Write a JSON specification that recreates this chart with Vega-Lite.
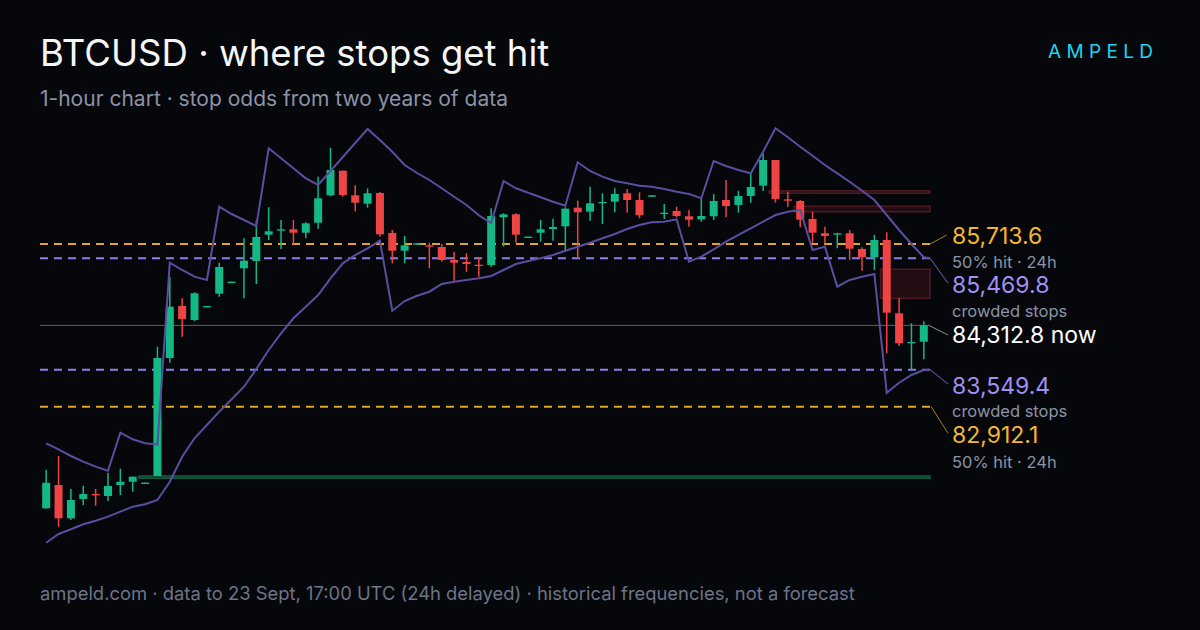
{
  "$schema": "https://vega.github.io/schema/vega-lite/v6.json",
  "width": 890,
  "height": 440,
  "autosize": "none",
  "padding": {"left": 40, "top": 120, "right": 270, "bottom": 70},
  "background": "#06070b",
  "config": {"view": {"stroke": null}, "font": "Inter"},
  "datasets": {
    "candles": [
      {"i":0,"o":81162,"h":81822,"l":81160,"c":81603},
      {"i":1,"o":81564,"h":82063,"l":80846,"c":80990},
      {"i":2,"o":80990,"h":81495,"l":80961,"c":81305},
      {"i":3,"o":81323,"h":81552,"l":81219,"c":81409},
      {"i":4,"o":81409,"h":81495,"l":81207,"c":81385},
      {"i":5,"o":81374,"h":81775,"l":81288,"c":81546},
      {"i":6,"o":81564,"h":81844,"l":81391,"c":81620},
      {"i":7,"o":81620,"h":81707,"l":81448,"c":81707},
      {"i":8,"o":81581,"h":81605,"l":81581,"c":81605},
      {"i":9,"o":81719,"h":83945,"l":81719,"c":83751},
      {"i":10,"o":83751,"h":85151,"l":83670,"c":84634},
      {"i":11,"o":84646,"h":84779,"l":84117,"c":84422},
      {"i":12,"o":84405,"h":84882,"l":84388,"c":84865},
      {"i":13,"o":84622,"h":84646,"l":84622,"c":84646},
      {"i":14,"o":84858,"h":85392,"l":84806,"c":85318},
      {"i":15,"o":85042,"h":85066,"l":85042,"c":85066},
      {"i":16,"o":85295,"h":85812,"l":84779,"c":85426},
      {"i":17,"o":85421,"h":86115,"l":85025,"c":85834},
      {"i":18,"o":85874,"h":86346,"l":85783,"c":85932},
      {"i":19,"o":85943,"h":86127,"l":85628,"c":85967},
      {"i":20,"o":85967,"h":86127,"l":85709,"c":85908},
      {"i":21,"o":85908,"h":86087,"l":85812,"c":86070},
      {"i":22,"o":86080,"h":86873,"l":85977,"c":86501},
      {"i":23,"o":86552,"h":87372,"l":86535,"c":86988},
      {"i":24,"o":86976,"h":86976,"l":86528,"c":86557},
      {"i":25,"o":86552,"h":86724,"l":86277,"c":86425},
      {"i":26,"o":86408,"h":86673,"l":86339,"c":86587},
      {"i":27,"o":86592,"h":86609,"l":85839,"c":85881},
      {"i":28,"o":85903,"h":85955,"l":85381,"c":85598},
      {"i":29,"o":85598,"h":85851,"l":85381,"c":85691},
      {"i":30,"o":85702,"h":85726,"l":85702,"c":85726},
      {"i":31,"o":85691,"h":85736,"l":85295,"c":85667},
      {"i":32,"o":85662,"h":85714,"l":85409,"c":85438},
      {"i":33,"o":85438,"h":85581,"l":85082,"c":85392},
      {"i":34,"o":85404,"h":85554,"l":85237,"c":85369},
      {"i":35,"o":85357,"h":85485,"l":85151,"c":85335},
      {"i":36,"o":85352,"h":86328,"l":85323,"c":86196},
      {"i":37,"o":86173,"h":86242,"l":85667,"c":86225},
      {"i":38,"o":86225,"h":86242,"l":85736,"c":85874},
      {"i":39,"o":85817,"h":85841,"l":85817,"c":85841},
      {"i":40,"o":85908,"h":86127,"l":85753,"c":85967},
      {"i":41,"o":85972,"h":86149,"l":85770,"c":86006},
      {"i":42,"o":86018,"h":86346,"l":85598,"c":86322},
      {"i":43,"o":86339,"h":86459,"l":85490,"c":86260},
      {"i":44,"o":86270,"h":86700,"l":86115,"c":86415},
      {"i":45,"o":86415,"h":86587,"l":86058,"c":86437},
      {"i":46,"o":86442,"h":86673,"l":86260,"c":86575},
      {"i":47,"o":86587,"h":86661,"l":86253,"c":86471},
      {"i":48,"o":86471,"h":86604,"l":86156,"c":86208},
      {"i":49,"o":86528,"h":86552,"l":86528,"c":86552},
      {"i":50,"o":86230,"h":86402,"l":86144,"c":86253},
      {"i":51,"o":86282,"h":86356,"l":86173,"c":86196},
      {"i":52,"o":86191,"h":86299,"l":86012,"c":86132},
      {"i":53,"o":86139,"h":86494,"l":86098,"c":86196},
      {"i":54,"o":86191,"h":86575,"l":86127,"c":86454},
      {"i":55,"o":86471,"h":86816,"l":86173,"c":86368},
      {"i":56,"o":86385,"h":86631,"l":86253,"c":86540},
      {"i":57,"o":86540,"h":86931,"l":86425,"c":86695},
      {"i":58,"o":86718,"h":87276,"l":86626,"c":87160},
      {"i":59,"o":87160,"h":87160,"l":86425,"c":86489},
      {"i":60,"o":86483,"h":86614,"l":86356,"c":86459},
      {"i":61,"o":86454,"h":86471,"l":86001,"c":86132},
      {"i":62,"o":86144,"h":86270,"l":85726,"c":85908},
      {"i":63,"o":85898,"h":86012,"l":85714,"c":85851},
      {"i":64,"o":85874,"h":85908,"l":85640,"c":85898},
      {"i":65,"o":85898,"h":85955,"l":85438,"c":85633},
      {"i":66,"o":85628,"h":85657,"l":85254,"c":85485},
      {"i":67,"o":85485,"h":85869,"l":85266,"c":85783},
      {"i":68,"o":85783,"h":85915,"l":83832,"c":84531},
      {"i":69,"o":84520,"h":84779,"l":83957,"c":84004},
      {"i":70,"o":84004,"h":84348,"l":83556,"c":84026},
      {"i":71,"o":84031,"h":84383,"l":83728,"c":84312.8}
    ],
    "bands": [
      {"i":0,"u":82282,"lo":80570},{"i":1,"u":82178,"lo":80720},{"i":2,"u":82063,"lo":80801},
      {"i":3,"u":81965,"lo":80887},{"i":4,"u":81879,"lo":80949},{"i":5,"u":81810,"lo":81018},
      {"i":6,"u":82464,"lo":81104},{"i":7,"u":82351,"lo":81190},{"i":8,"u":82282,"lo":81231},
      {"i":9,"u":82261,"lo":81305},{"i":10,"u":85392,"lo":81620},{"i":11,"u":85266,"lo":82051},
      {"i":12,"u":85151,"lo":82368},{"i":13,"u":85094,"lo":82597},{"i":14,"u":86356,"lo":82826},
      {"i":15,"u":86230,"lo":83039},{"i":16,"u":86127,"lo":83256},{"i":17,"u":86024,"lo":83561},
      {"i":18,"u":87362,"lo":83888},{"i":19,"u":87189,"lo":84176},{"i":20,"u":87017,"lo":84434},
      {"i":21,"u":86845,"lo":84634},{"i":22,"u":86730,"lo":84835},{"i":23,"u":86971,"lo":85123},
      {"i":24,"u":87212,"lo":85381},{"i":25,"u":87453,"lo":85524},{"i":26,"u":87694,"lo":85640},
      {"i":27,"u":87505,"lo":85770},{"i":28,"u":87303,"lo":84565},{"i":29,"u":87074,"lo":84732},
      {"i":30,"u":86936,"lo":84823},{"i":31,"u":86816,"lo":84892},{"i":32,"u":86673,"lo":85025},
      {"i":33,"u":86528,"lo":85064},{"i":34,"u":86385,"lo":85094},{"i":35,"u":86208,"lo":85123},
      {"i":36,"u":86070,"lo":85163},{"i":37,"u":86799,"lo":85266},{"i":38,"u":86673,"lo":85369},
      {"i":39,"u":86597,"lo":85421},{"i":40,"u":86518,"lo":85467},{"i":41,"u":86442,"lo":85524},
      {"i":42,"u":86373,"lo":85598},{"i":43,"u":87121,"lo":85667},{"i":44,"u":86971,"lo":85736},
      {"i":45,"u":86873,"lo":85812},{"i":46,"u":86799,"lo":85886},{"i":47,"u":86759,"lo":85972},
      {"i":48,"u":86718,"lo":86041},{"i":49,"u":86700,"lo":86087},{"i":50,"u":86661,"lo":86098},
      {"i":51,"u":86614,"lo":86139},{"i":52,"u":86575,"lo":85409},{"i":53,"u":86501,"lo":85495},
      {"i":54,"u":87143,"lo":85622},{"i":55,"u":87057,"lo":85753},{"i":56,"u":86988,"lo":85869},
      {"i":57,"u":86931,"lo":85984},{"i":58,"u":87303,"lo":86098},{"i":59,"u":87706,"lo":86213},
      {"i":60,"u":87551,"lo":86270},{"i":61,"u":87389,"lo":86299},{"i":62,"u":87234,"lo":85610},
      {"i":63,"u":87074,"lo":85667},{"i":64,"u":86931,"lo":84978},{"i":65,"u":86786,"lo":85094},
      {"i":66,"u":86631,"lo":85151},{"i":67,"u":86471,"lo":85197},{"i":68,"u":86213,"lo":83153},
      {"i":69,"u":85955,"lo":83325},{"i":70,"u":85714,"lo":83458},{"i":71,"u":85485,"lo":83544},
      {"i":71.5,"u":85469.8,"lo":83549.4}
    ],
    "levels": [
      {"p":85713.6,"kind":"hit"},
      {"p":85469.8,"kind":"crowd"},
      {"p":83549.4,"kind":"crowd"},
      {"p":82912.1,"kind":"hit"}
    ],
    "now": [{"p":84312.8}],
    "zones": [
      {"x":58.5,"x2":71.5,"y":86586.7,"y2":86631.4,"side":"sell"},
      {"x":60.5,"x2":71.5,"y":86269.8,"y2":86362.8,"side":"sell"},
      {"x":67.5,"x2":71.5,"y":84778.6,"y2":85278,"side":"sell"},
      {"x":7.5,"x2":71.5,"y":81679,"y2":81718.6,"side":"buy"}
    ],
    "connectors": [
      {"x":71.5,"x2":72.85,"y":85713.6,"y2":85868.6,"kind":"hit"},
      {"x":71.5,"x2":72.96,"y":85469.8,"y2":85036.9,"kind":"crowd"},
      {"x":71.4,"x2":72.96,"y":84312.8,"y2":84146.6,"kind":"now"},
      {"x":71.5,"x2":72.96,"y":83549.4,"y2":83302.8,"kind":"crowd"},
      {"x":71.6,"x2":72.96,"y":82912.1,"y2":82453.9,"kind":"hit"}
    ],
    "bigLabels": [
      {"x":73.28,"y":85713.6,"t":"85,713.6","kind":"hit"},
      {"x":73.28,"y":84864.7,"t":"85,469.8","kind":"crowd"},
      {"x":73.28,"y":84003.7,"t":"84,312.8 now","kind":"now"},
      {"x":73.28,"y":83130.6,"t":"83,549.4","kind":"crowd"},
      {"x":73.28,"y":82281.7,"t":"82,912.1","kind":"hit"}
    ],
    "smallLabels": [
      {"x":73.28,"y":85305.5,"t":"50% hit · 24h"},
      {"x":73.28,"y":84461.7,"t":"crowded stops"},
      {"x":73.28,"y":82739.7,"t":"crowded stops"},
      {"x":73.28,"y":81861.5,"t":"50% hit · 24h"}
    ],
    "heading": [{"x":-0.5,"y":88783.9,"t":"BTCUSD · where stops get hit"}],
    "subheading": [{"x":-0.5,"y":88090,"t":"1-hour chart · stop odds from two years of data"}],
    "footer": [{"x":-0.5,"y":79583.3,"t":"ampeld.com · data to 23 Sept, 17:00 UTC (24h delayed) · historical frequencies, not a forecast"}],
    "brand": [{"x":89.54,"y":88911.4,"t":"A M P E L D"}]
  },
  "layer": [
    {
      "data": {"name": "zones"},
      "mark": {"type": "rect", "strokeWidth": 1.5},
      "encoding": {
        "x": {"field": "x", "type": "quantitative", "scale": {"domain": [-0.5, 71.5], "nice": false, "zero": false, "padding": 0}, "axis": null},
        "x2": {"field": "x2"},
        "y": {"field": "y", "type": "quantitative", "scale": {"domain": [80272.1, 87848.9], "nice": false, "zero": false, "padding": 0}, "axis": null},
        "y2": {"field": "y2"},
        "fill": {"field": "side", "type": "nominal", "scale": {"domain": ["sell", "buy"], "range": ["#240d12", "#0b3527"]}, "legend": null},
        "stroke": {"field": "side", "type": "nominal", "scale": {"domain": ["sell", "buy"], "range": ["#4a1b23", "#145a43"]}, "legend": null}
      }
    },
    {
      "data": {"name": "levels"},
      "mark": {"type": "rule", "strokeWidth": 2, "strokeDash": [8, 6]},
      "encoding": {
        "y": {"field": "p", "type": "quantitative", "axis": null},
        "color": {"field": "kind", "type": "nominal", "scale": {"domain": ["hit", "crowd"], "range": ["#e0a52a", "#8e7fe2"]}, "legend": null}
      }
    },
    {
      "data": {"name": "now"},
      "mark": {"type": "rule", "strokeWidth": 1, "color": "#5d616c"},
      "encoding": {
        "y": {"field": "p", "type": "quantitative", "axis": null}
      }
    },
    {
      "data": {"name": "candles"},
      "mark": {"type": "rule", "strokeWidth": 1.5},
      "encoding": {
        "x": {"field": "i", "type": "quantitative", "axis": null},
        "y": {"field": "l", "type": "quantitative", "axis": null},
        "y2": {"field": "h"},
        "color": {"condition": {"test": "datum.c >= datum.o", "value": "#12b886"}, "value": "#ef4444"}
      }
    },
    {
      "data": {"name": "candles"},
      "mark": {"type": "bar", "size": 8},
      "encoding": {
        "x": {"field": "i", "type": "quantitative", "axis": null},
        "y": {"field": "o", "type": "quantitative", "axis": null},
        "y2": {"field": "c"},
        "color": {"condition": {"test": "datum.c >= datum.o", "value": "#12b886"}, "value": "#ef4444"}
      }
    },
    {
      "data": {"name": "bands"},
      "mark": {"type": "line", "strokeWidth": 2, "color": "#5b4d9f"},
      "encoding": {
        "x": {"field": "i", "type": "quantitative", "axis": null},
        "y": {"field": "u", "type": "quantitative", "axis": null}
      }
    },
    {
      "data": {"name": "bands"},
      "mark": {"type": "line", "strokeWidth": 2, "color": "#5b4d9f"},
      "encoding": {
        "x": {"field": "i", "type": "quantitative", "axis": null},
        "y": {"field": "lo", "type": "quantitative", "axis": null}
      }
    },
    {
      "data": {"name": "connectors"},
      "mark": {"type": "rule", "strokeWidth": 1},
      "encoding": {
        "x": {"field": "x", "type": "quantitative", "axis": null},
        "x2": {"field": "x2"},
        "y": {"field": "y", "type": "quantitative", "axis": null},
        "y2": {"field": "y2"},
        "color": {"field": "kind", "type": "nominal", "scale": {"domain": ["hit", "crowd", "now"], "range": ["#a17f2c", "#6f63b5", "#8a8e98"]}, "legend": null}
      }
    },
    {
      "data": {"name": "bigLabels"},
      "mark": {"type": "text", "align": "left", "baseline": "alphabetic", "fontSize": 23, "font": "Inter"},
      "encoding": {
        "x": {"field": "x", "type": "quantitative", "axis": null},
        "y": {"field": "y", "type": "quantitative", "axis": null},
        "text": {"field": "t"},
        "color": {"field": "kind", "type": "nominal", "scale": {"domain": ["hit", "crowd", "now"], "range": ["#f4b534", "#a090f4", "#ffffff"]}, "legend": null}
      }
    },
    {
      "data": {"name": "smallLabels"},
      "mark": {"type": "text", "align": "left", "baseline": "alphabetic", "fontSize": 16.5, "font": "Inter", "color": "#8a93a6"},
      "encoding": {
        "x": {"field": "x", "type": "quantitative", "axis": null},
        "y": {"field": "y", "type": "quantitative", "axis": null},
        "text": {"field": "t"}
      }
    },
    {
      "data": {"name": "heading"},
      "mark": {"type": "text", "align": "left", "baseline": "alphabetic", "fontSize": 36.5, "fontWeight": 400, "font": "Inter", "color": "#f5f6f8"},
      "encoding": {
        "x": {"field": "x", "type": "quantitative", "axis": null},
        "y": {"field": "y", "type": "quantitative", "axis": null},
        "text": {"field": "t"}
      }
    },
    {
      "data": {"name": "subheading"},
      "mark": {"type": "text", "align": "left", "baseline": "alphabetic", "fontSize": 21, "font": "Inter", "color": "#8b93a5"},
      "encoding": {
        "x": {"field": "x", "type": "quantitative", "axis": null},
        "y": {"field": "y", "type": "quantitative", "axis": null},
        "text": {"field": "t"}
      }
    },
    {
      "data": {"name": "footer"},
      "mark": {"type": "text", "align": "left", "baseline": "alphabetic", "fontSize": 18.4, "font": "Inter", "color": "#6c7487"},
      "encoding": {
        "x": {"field": "x", "type": "quantitative", "axis": null},
        "y": {"field": "y", "type": "quantitative", "axis": null},
        "text": {"field": "t"}
      }
    },
    {
      "data": {"name": "brand"},
      "mark": {"type": "text", "align": "right", "baseline": "alphabetic", "fontSize": 19, "font": "Inter", "color": "#22d3ee"},
      "encoding": {
        "x": {"field": "x", "type": "quantitative", "axis": null},
        "y": {"field": "y", "type": "quantitative", "axis": null},
        "text": {"field": "t"}
      }
    }
  ],
  "resolve": {"scale": {"color": "independent", "fill": "independent", "stroke": "independent"}}
}
